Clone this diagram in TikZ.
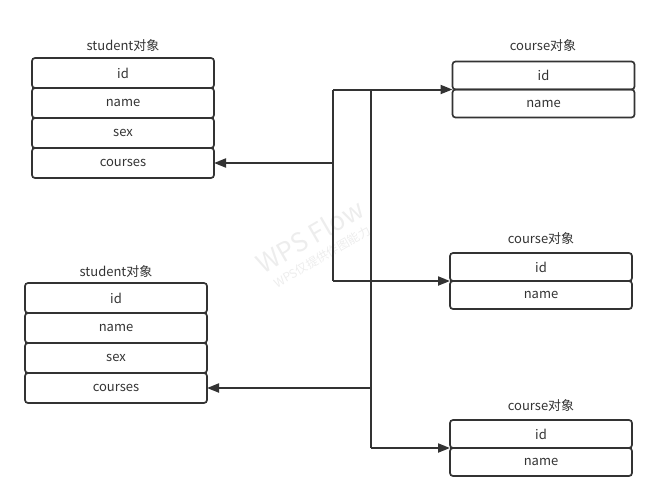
\documentclass[tikz,border=0pt]{standalone}
\usepackage{fontspec}
\setmainfont{Noto Sans CJK SC}
\usetikzlibrary{arrows.meta, positioning}
\definecolor{linegray}{HTML}{333333}
\definecolor{textgray}{HTML}{333333}
\definecolor{markgray}{HTML}{EDEDED}

\begin{document}
\begin{tikzpicture}[x=1pt, y=-1pt,
    title/.style={text=textgray, font=\fontsize{13}{15}\selectfont},
    srow/.style={draw=linegray, line width=1.7pt, rounded corners=3pt,
        minimum width=182pt, minimum height=30pt, inner sep=0pt, outer sep=0pt,
        text=textgray, font=\fontsize{13}{15}\selectfont},
    crow/.style={srow, minimum height=28pt},
    conn/.style={draw=linegray, line width=2pt},
    tip/.style={-{Triangle[length=12pt, width=9pt]}}]
    \useasboundingbox (0,0) rectangle (660,501);

    % Watermark
    \node[text=markgray, rotate=30, inner sep=0pt, font=\fontsize{26}{28}\selectfont] (wmark) at (310,236) {WPS Flow};
    \node[text=markgray, rotate=30, inner sep=0pt, font=\fontsize{12}{14}\selectfont] (wnote) at (322,257) {WPS仅提供作图能力};

    % First student
    \node[title] (s1title) at (123,46) {student对象};
    \node[srow] (s1id) at (123,73) {id};
    \node[srow, below=0pt of s1id] (s1name) {name};
    \node[srow, below=0pt of s1name] (s1sex) {sex};
    \node[srow, below=0pt of s1sex] (s1courses) {courses};

    % Second student
    \node[title] (s2title) at (116,272) {student对象};
    \node[srow] (s2id) at (116,298) {id};
    \node[srow, below=0pt of s2id] (s2name) {name};
    \node[srow, below=0pt of s2name] (s2sex) {sex};
    \node[srow, below=0pt of s2sex] (s2courses) {courses};

    % Courses
    \node[title] (c1title) at (543,46) {course对象};
    \node[crow] (c1id) at (543.5,75.5) {id};
    \node[crow, below=0pt of c1id] (c1name) {name};

    \node[title] (c2title) at (541,239) {course对象};
    \node[crow] (c2id) at (541,267) {id};
    \node[crow, below=0pt of c2id] (c2name) {name};

    \node[title] (c3title) at (541,406) {course对象};
    \node[crow] (c3id) at (541,434) {id};
    \node[crow, below=0pt of c3id] (c3name) {name};

    % Buses
    \coordinate (busA) at (333,0);
    \coordinate (busB) at (371,0);

    % First student to its courses
    \draw[conn] (busA |- c1id.south west) -- (busA |- c2id.south west);
    \draw[conn, tip] (busA |- s1courses.east) -- (s1courses.east);
    \draw[conn, tip] (busA |- c1id.south west) -- (c1id.south west);
    \draw[conn, tip] (busA |- c2id.south west) -- (c2id.south west);

    % Second student to its courses
    \draw[conn] (busB |- c1id.south west) -- (busB |- c3id.south west);
    \draw[conn, tip] (busB |- s2courses.east) -- (s2courses.east);
    \draw[conn, tip] (busB |- c3id.south west) -- (c3id.south west);
\end{tikzpicture}
\end{document}
